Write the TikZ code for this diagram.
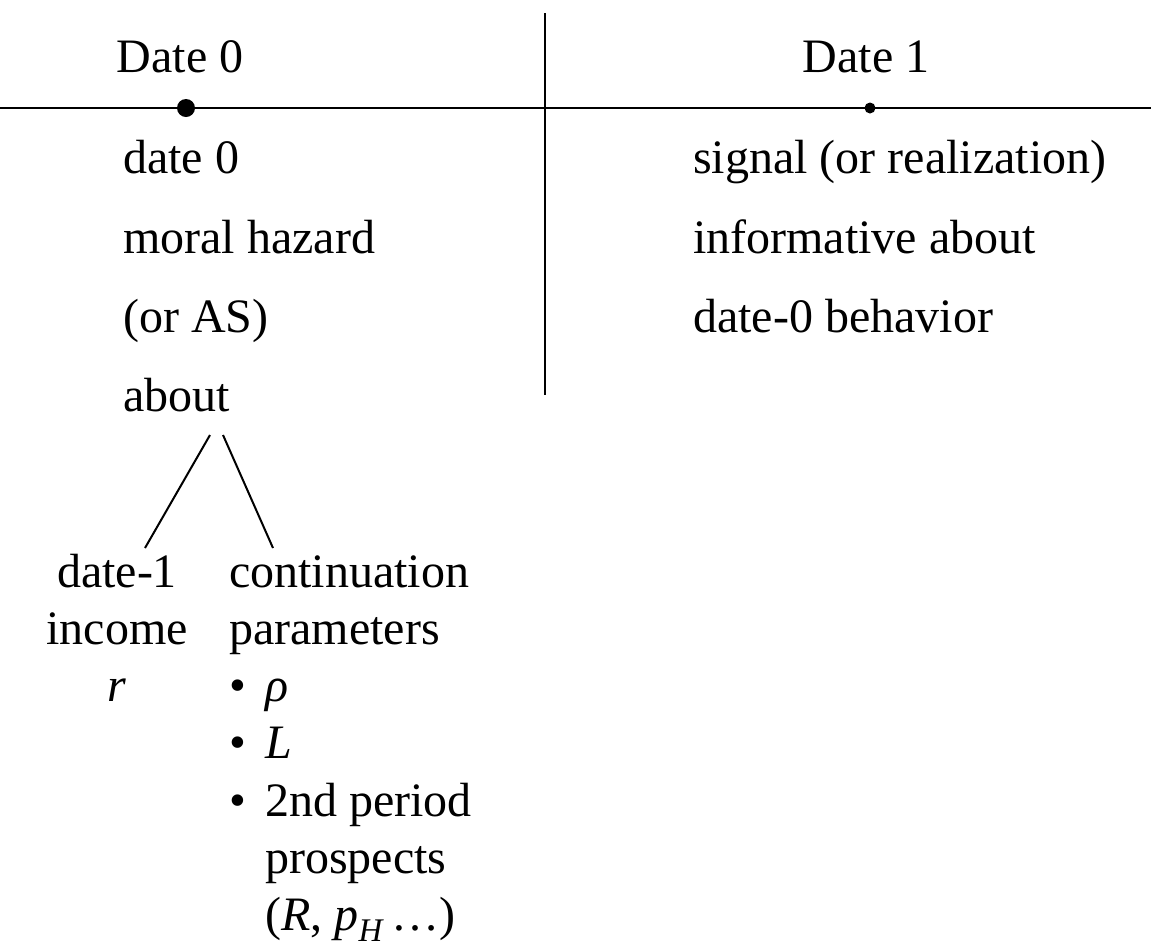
\documentclass[tikz,border=0pt]{standalone}
\usepackage{fontspec}
\setmainfont{Liberation Serif}
\newcommand{\bigtxt}{\fontsize{48}{57.5}\selectfont}
\begin{document}
\begin{tikzpicture}[x=1pt,y=-1pt,
    txt/.style={anchor=base west,inner sep=0pt,font=\bigtxt},
    ctxt/.style={anchor=base,inner sep=0pt,font=\bigtxt},
    dot/.style={circle,fill,inner sep=0pt,minimum size=#1},
    rule/.style={line width=2.8pt},
    branch/.style={line width=2pt}]
  \useasboundingbox (0,0) rectangle (1151,946);
  % time line and separator
  \coordinate (tl0) at (0,108);
  \coordinate (tl1) at (1151,108);
  \coordinate (sep0) at (545,13);
  \coordinate (sep1) at (545,395);
  \draw[rule] (tl0) -- (tl1);
  \draw[rule] (sep0) -- (sep1);
  \node[dot=18pt] (dot0) at (186,108) {};
  \node[dot=11pt] (dot1) at (870,108) {};
  % headers
  \node[ctxt] (date0) at (180,72) {Date 0};
  \node[ctxt] (date1) at (866,72) {Date 1};
  % date 0 column
  \node[txt] (l1) at (123,173) {date 0};
  \node[txt] (l2) at (123,253) {moral hazard};
  \node[txt] (l3) at (123,332) {(or AS)};
  \node[txt] (about) at (123,411) {about};
  % date 1 column
  \node[txt] (r1) at (693,173) {signal (or realization)};
  \node[txt] (r2) at (693,253) {informative about};
  \node[txt] (r3) at (693,332) {date-0 behavior};
  % branches
  \coordinate (ab-l) at (210,435);
  \coordinate (ab-r) at (223,435);
  \coordinate (inc) at (145,548);
  \coordinate (cont) at (273,548);
  \draw[branch] (ab-l) -- (inc);
  \draw[branch] (ab-r) -- (cont);
  % income
  \node[ctxt] (inc1) at (117,587) {date-1};
  \node[ctxt] (inc2) at (117,644) {income};
  \node[ctxt] (inc3) at (117,701) {\textit{r}};
  % continuation parameters
  \node[txt] (c1) at (229,587) {continuation};
  \node[txt] (c2) at (229,644) {parameters};
  \foreach \y in {701,758,816}
    \node[txt] at (229,\y) {•};
  \node[txt] (rho) at (265,701) {\textit{ρ}};
  \node[txt] (liq) at (265,758) {\textit{L}};
  \node[txt] (p1) at (265,816) {2nd period};
  \node[txt] (p2) at (265,873) {prospects};
  \node[txt] (p3) at (265,930) {(\textit{R}, \textit{p}\raisebox{-11pt}{\fontsize{33}{33}\selectfont\textit{H}}\,…)};
\end{tikzpicture}
\end{document}
